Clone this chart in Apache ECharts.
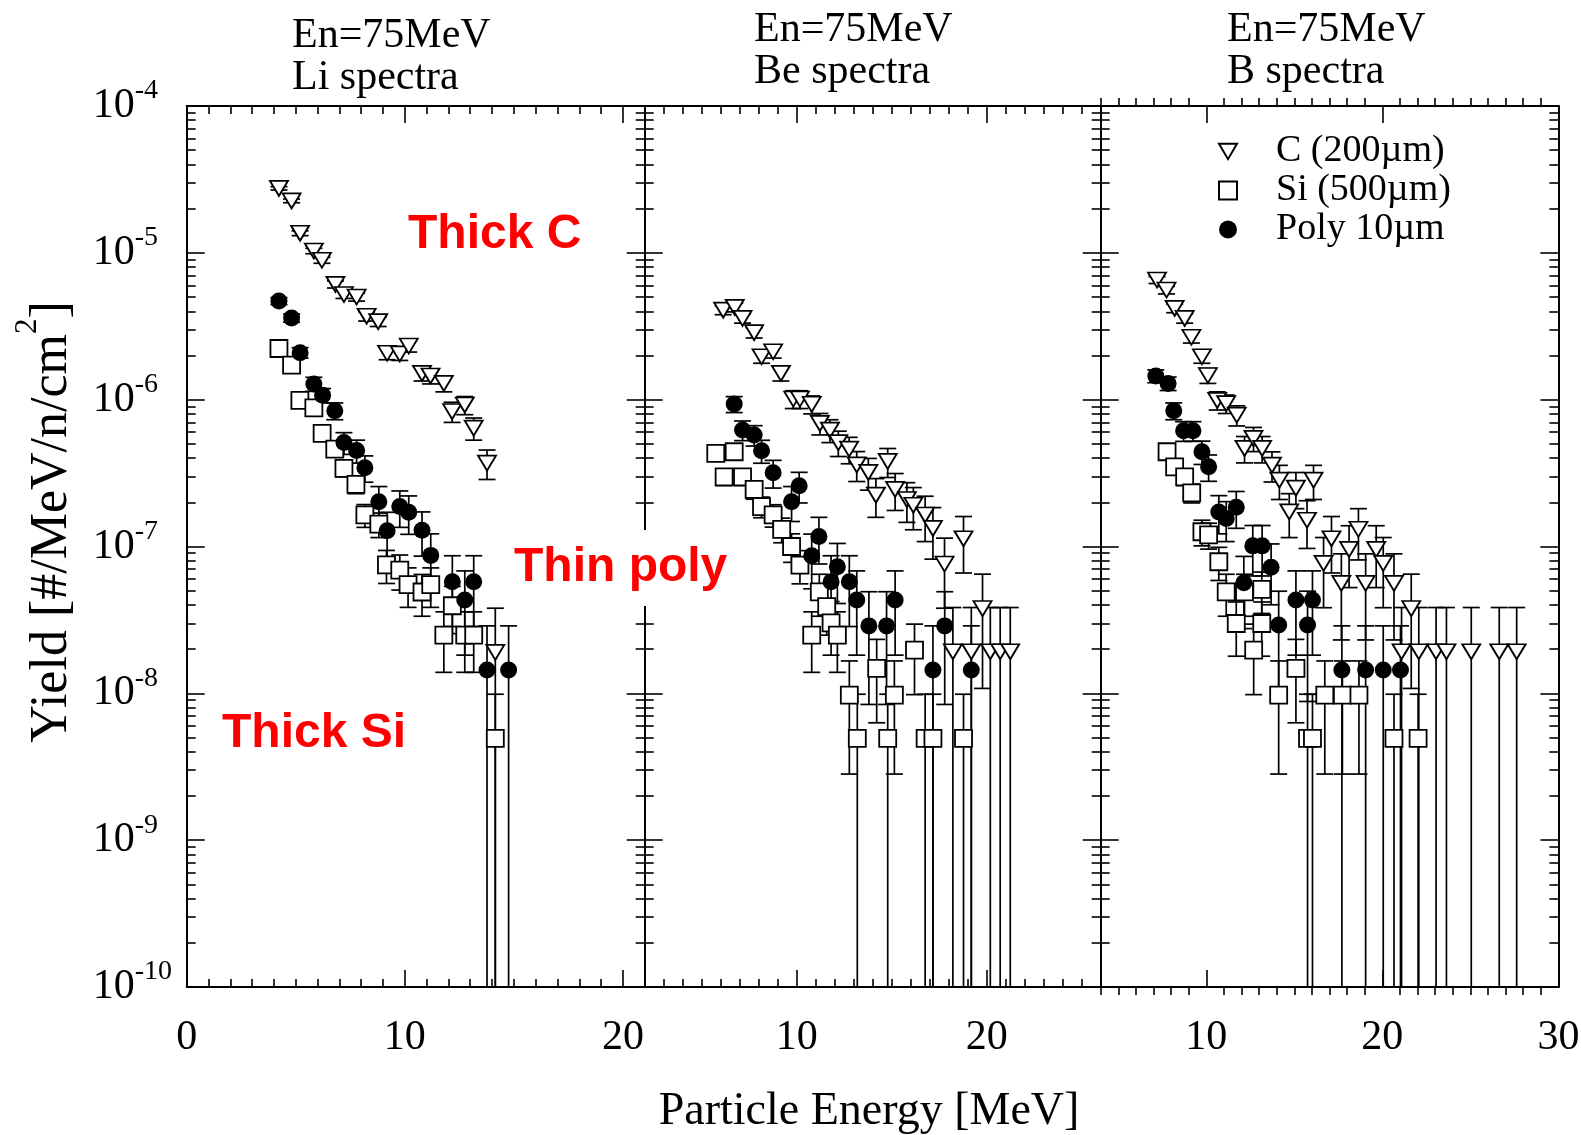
<!DOCTYPE html>
<html><head><meta charset="utf-8">
<script src="https://cdn.jsdelivr.net/npm/echarts@6/dist/echarts.min.js"></script>
<style>html,body{margin:0;padding:0;background:#fff}#c{width:1581px;height:1135px}</style>
</head><body><div id="c"></div>
<script>
// ---------------- data ----------------
const seriesNames = ['C (200µm)', 'Si (500µm)', 'Poly 10µm'];
const panelTitles = ['En=75MeV\nLi spectra', 'En=75MeV\nBe spectra', 'En=75MeV\nB spectra'];
const liTickLabels = [0, 10, 20];
const beTickLabels = [10, 20];
const bTickLabels = [10, 20, 30];

// Li panel
const liC_x = [4.23, 4.81, 5.20, 5.83, 6.20, 6.82, 7.21, 7.79, 8.25, 8.78, 9.19, 9.77, 10.18, 10.79, 11.18, 11.79, 12.17, 12.75, 13.16, 13.77, 14.15];
const liC_y = [2.75e-5, 2.26e-5, 1.36e-5, 1.03e-5, 8.9e-6, 6.1e-6, 5.2e-6, 5.0e-6, 3.7e-6, 3.4e-6, 2.07e-6, 2.05e-6, 2.32e-6, 1.51e-6, 1.45e-6, 1.29e-6, 8.3e-7, 9.2e-7, 6.4e-7, 3.7e-7, 1.9e-8];
const liC_err = [7.2e-7, 6.6e-7, 5.1e-7, 4.4e-7, 4.1e-7, 3.4e-7, 3.1e-7, 3.1e-7, 2.7e-7, 2.5e-7, 2.0e-7, 2.0e-7, 2.1e-7, 1.7e-7, 1.7e-7, 1.6e-7, 1.3e-7, 1.3e-7, 1.1e-7, 8.4e-8, 1.9e-8];
const liSi_x = [4.23, 4.81, 5.19, 5.83, 6.21, 6.79, 7.21, 7.76, 8.17, 8.81, 9.16, 9.77, 10.15, 10.79, 11.19, 11.79, 12.18, 12.75, 13.16, 14.15];
const liSi_y = [2.23e-6, 1.72e-6, 9.9e-7, 8.8e-7, 5.9e-7, 4.6e-7, 3.4e-7, 2.65e-7, 1.64e-7, 1.42e-7, 7.5e-8, 6.9e-8, 5.5e-8, 4.9e-8, 5.5e-8, 2.49e-8, 3.95e-8, 2.49e-8, 2.49e-8, 4.93e-9];
const liSi_err = [1.05e-7, 9.2e-8, 7.0e-8, 6.6e-8, 5.4e-8, 4.8e-8, 4.1e-8, 3.6e-8, 2.9e-8, 2.7e-8, 1.9e-8, 1.85e-8, 1.65e-8, 1.55e-8, 1.65e-8, 1.1e-8, 1.4e-8, 1.1e-8, 1.1e-8, 4.93e-9];
const liP_x = [4.23, 4.81, 5.20, 5.83, 6.23, 6.79, 7.21, 7.79, 8.17, 8.81, 9.19, 9.77, 10.18, 10.79, 11.19, 12.18, 12.75, 13.16, 13.77, 14.76];
const liP_y = [4.7e-6, 3.6e-6, 2.09e-6, 1.28e-6, 1.07e-6, 8.4e-7, 5.1e-7, 4.5e-7, 3.44e-7, 2.02e-7, 1.28e-7, 1.87e-7, 1.71e-7, 1.29e-7, 8.7e-8, 5.75e-8, 4.32e-8, 5.75e-8, 1.44e-8, 1.44e-8];
const liP_err = [2.6e-7, 2.3e-7, 1.7e-7, 1.4e-7, 1.2e-7, 1.1e-7, 8.6e-8, 8.0e-8, 7.0e-8, 5.4e-8, 4.3e-8, 5.2e-8, 5.0e-8, 4.3e-8, 3.5e-8, 2.9e-8, 2.5e-8, 2.9e-8, 1.44e-8, 1.44e-8];

// Be panel
const beC_x = [6.13, 6.74, 7.15, 7.76, 8.15, 8.76, 9.17, 9.82, 10.17, 10.79, 11.22, 11.75, 12.19, 12.76, 13.16, 13.77, 14.17, 14.79, 15.18, 15.80, 16.14, 16.76, 17.17, 17.78, 18.22, 18.78, 19.19, 19.78, 20.19, 20.71, 21.24];
const beC_y = [4.07e-6, 4.25e-6, 3.58e-6, 2.86e-6, 1.96e-6, 2.12e-6, 1.51e-6, 1.01e-6, 1.01e-6, 9.3e-7, 6.9e-7, 6.2e-7, 5.1e-7, 4.6e-7, 3.6e-7, 3.2e-7, 2.24e-7, 3.8e-7, 2.45e-7, 2.09e-7, 1.91e-7, 1.64e-7, 1.33e-7, 7.6e-8, 1.92e-8, 1.13e-7, 1.92e-8, 3.78e-8, 1.92e-8, 1.92e-8, 1.92e-8];
const beC_err = [2.8e-7, 2.9e-7, 2.6e-7, 2.3e-7, 1.9e-7, 2.0e-7, 1.7e-7, 1.4e-7, 1.4e-7, 1.3e-7, 1.15e-7, 1.1e-7, 1.0e-7, 9.4e-8, 8.3e-8, 7.8e-8, 6.6e-8, 8.5e-8, 6.9e-8, 6.3e-8, 6.1e-8, 5.6e-8, 5.1e-8, 3.8e-8, 1.92e-8, 4.7e-8, 1.92e-8, 2.7e-8, 1.92e-8, 1.92e-8, 1.92e-8];
const beSi_x = [5.74, 6.18, 6.71, 7.15, 7.76, 8.15, 8.76, 9.21, 9.73, 10.17, 10.79, 11.19, 11.58, 11.81, 12.14, 12.77, 13.19, 14.21, 14.79, 15.14, 16.20, 16.76, 17.17, 18.78];
const beSi_y = [4.31e-7, 2.98e-7, 4.42e-7, 2.98e-7, 2.45e-7, 1.87e-7, 1.64e-7, 1.31e-7, 1.0e-7, 7.47e-8, 2.49e-8, 4.91e-8, 3.89e-8, 3.02e-8, 2.49e-8, 9.72e-9, 4.93e-9, 1.48e-8, 4.93e-9, 9.72e-9, 1.97e-8, 4.93e-9, 4.93e-9, 4.93e-9];
const beSi_err = [4.6e-8, 3.8e-8, 4.7e-8, 3.8e-8, 3.5e-8, 3.0e-8, 2.85e-8, 2.5e-8, 2.2e-8, 1.9e-8, 1.1e-8, 1.56e-8, 1.4e-8, 1.2e-8, 1.1e-8, 6.9e-9, 4.93e-9, 8.5e-9, 4.93e-9, 6.9e-9, 9.9e-9, 4.93e-9, 4.93e-9, 4.93e-9];
const beP_x = [6.71, 7.15, 7.76, 8.15, 8.76, 9.73, 10.13, 10.79, 11.17, 11.81, 12.14, 12.77, 13.16, 13.80, 14.73, 15.18, 17.17, 17.79, 19.19];
const beP_y = [9.33e-7, 6.21e-7, 5.74e-7, 4.49e-7, 3.18e-7, 2.02e-7, 2.59e-7, 8.65e-8, 1.17e-7, 5.75e-8, 7.29e-8, 5.75e-8, 4.32e-8, 2.88e-8, 2.88e-8, 4.32e-8, 1.44e-8, 2.88e-8, 1.44e-8];
const beP_err = [1.16e-7, 9.5e-8, 9.1e-8, 8.0e-8, 6.8e-8, 5.4e-8, 6.1e-8, 3.5e-8, 4.1e-8, 2.9e-8, 3.2e-8, 2.9e-8, 2.5e-8, 2.04e-8, 2.04e-8, 2.5e-8, 1.44e-8, 2.04e-8, 1.44e-8];

// B panel
const bC_x = [7.20, 7.74, 8.20, 8.77, 9.15, 9.75, 10.09, 10.62, 11.13, 11.73, 12.17, 12.68, 13.17, 13.73, 14.15, 14.71, 15.09, 15.72, 16.09, 16.66, 17.11, 17.67, 18.11, 18.64, 19.05, 19.65, 20.05, 20.66, 21.09, 21.64, 22.07, 23.05, 23.64, 25.05, 26.64, 27.63];
const bC_y = [6.53e-6, 5.58e-6, 4.19e-6, 3.58e-6, 2.66e-6, 1.96e-6, 1.46e-6, 9.9e-7, 9.4e-7, 7.85e-7, 4.66e-7, 5.45e-7, 4.66e-7, 3.58e-7, 2.83e-7, 1.72e-7, 2.5e-7, 1.51e-7, 2.83e-7, 7.67e-8, 1.13e-7, 5.61e-8, 9.55e-8, 1.31e-7, 5.61e-8, 9.55e-8, 7.67e-8, 5.61e-8, 1.92e-8, 3.78e-8, 1.92e-8, 1.92e-8, 1.92e-8, 1.92e-8, 1.92e-8, 1.92e-8];
const bC_err = [3.5e-7, 3.3e-7, 2.8e-7, 2.6e-7, 2.3e-7, 1.9e-7, 1.7e-7, 1.4e-7, 1.35e-7, 1.23e-7, 9.5e-8, 1.02e-7, 9.5e-8, 8.3e-8, 7.4e-8, 5.7e-8, 6.9e-8, 5.4e-8, 7.4e-8, 3.84e-8, 4.7e-8, 3.3e-8, 4.3e-8, 5.0e-8, 3.3e-8, 4.3e-8, 3.84e-8, 3.3e-8, 1.92e-8, 2.7e-8, 1.92e-8, 1.92e-8, 1.92e-8, 1.92e-8, 1.92e-8, 1.92e-8];
const bSi_x = [7.77, 8.20, 8.77, 9.17, 9.75, 10.13, 10.71, 11.13, 11.70, 12.17, 12.69, 13.15, 13.15, 14.11, 15.09, 15.75, 16.03, 16.73, 17.73, 18.67, 20.66, 22.03];
const bSi_y = [4.42e-7, 3.49e-7, 2.98e-7, 2.32e-7, 1.26e-7, 1.20e-7, 7.87e-8, 4.91e-8, 2.99e-8, 4.91e-8, 1.97e-8, 2.99e-8, 5.1e-8, 9.72e-9, 1.48e-8, 4.93e-9, 4.93e-9, 9.72e-9, 9.72e-9, 9.72e-9, 4.93e-9, 4.93e-9];
const bSi_err = [4.7e-8, 4.1e-8, 3.8e-8, 3.4e-8, 2.5e-8, 2.4e-8, 2.0e-8, 1.56e-8, 1.2e-8, 1.56e-8, 9.9e-9, 1.2e-8, 1.6e-8, 6.9e-9, 8.5e-9, 4.93e-9, 4.93e-9, 6.9e-9, 6.9e-9, 6.9e-9, 4.93e-9, 4.93e-9];
const bP_x = [7.13, 7.83, 8.15, 8.71, 9.24, 9.75, 10.13, 10.71, 11.13, 11.70, 12.13, 12.64, 13.17, 13.68, 14.11, 15.09, 15.75, 16.03, 17.70, 19.05, 20.05, 21.03];
const bP_y = [1.45e-6, 1.29e-6, 8.4e-7, 6.14e-7, 6.14e-7, 4.42e-7, 3.49e-7, 1.72e-7, 1.55e-7, 1.85e-7, 5.66e-8, 1.01e-7, 1.01e-7, 7.21e-8, 2.92e-8, 4.32e-8, 2.92e-8, 4.32e-8, 1.44e-8, 1.44e-8, 1.44e-8, 1.44e-8];
const bP_err = [1.45e-7, 1.36e-7, 1.1e-7, 9.4e-8, 9.4e-8, 8.0e-8, 7.1e-8, 5.0e-8, 4.7e-8, 5.2e-8, 2.9e-8, 3.8e-8, 3.8e-8, 3.2e-8, 2.04e-8, 2.5e-8, 2.04e-8, 2.5e-8, 1.44e-8, 1.44e-8, 1.44e-8, 1.44e-8];

// ---------------- layout / style ----------------
const SERIF = "'Liberation Serif', 'Times New Roman', serif";
const SANS = "'Liberation Sans', Arial, sans-serif";
const Y_MIN = 1e-10, Y_MAX = 1e-4;
const gridTop = 106, gridHeight = 881;
const panels = [
  { left: 186.7, width: 458, xMin: 0, xMax: 21, labels: liTickLabels, titleLeft: 292, titleTop: 15,
    sets: [[liC_x, liC_y, liC_err], [liSi_x, liSi_y, liSi_err], [liP_x, liP_y, liP_err]] },
  { left: 644.7, width: 456, xMin: 2, xMax: 26, labels: beTickLabels, titleLeft: 754, titleTop: 9,
    sets: [[beC_x, beC_y, beC_err], [beSi_x, beSi_y, beSi_err], [beP_x, beP_y, beP_err]] },
  { left: 1100.7, width: 457.7, xMin: 4, xMax: 30, labels: bTickLabels, titleLeft: 1227, titleTop: 9,
    sets: [[bC_x, bC_y, bC_err], [bSi_x, bSi_y, bSi_err], [bP_x, bP_y, bP_err]] }
];
const TRI = 'path://M0,0 L20,0 L10,17 Z';
const symbolDefs = [
  { symbol: TRI, size: [18, 15], style: { color: '#fff', borderColor: '#000', borderWidth: 1.8 } },
  { symbol: 'rect', size: 17, style: { color: '#fff', borderColor: '#000', borderWidth: 1.8 } },
  { symbol: 'circle', size: 17, style: { color: '#000', borderColor: '#000', borderWidth: 0 } }
];
const lineStyle = { color: '#000', width: 2 };
const tickStyle = { color: '#000', width: 1.6 };

const grids = [], xAxes = [], yAxes = [], series = [];
panels.forEach((p, i) => {
  grids.push({ left: p.left, top: gridTop, width: p.width, height: gridHeight, containLabel: false, outerBoundsMode: 'none', show: false });
  const ints = [];
  for (let v = p.xMin; v <= p.xMax; v++) ints.push(v);
  const minorVals = ints.filter(v => v % 10 !== 0);
  const outward = i === 2;
  const base = { gridIndex: i, type: 'value', min: p.xMin, max: p.xMax, interval: 1, splitLine: { show: false } };
  xAxes.push(
    Object.assign({}, base, { position: 'bottom', axisLine: { show: true, onZero: false, lineStyle },
      axisTick: { show: true, inside: !outward, length: 8, customValues: minorVals, lineStyle: tickStyle }, axisLabel: { show: false } }),
    Object.assign({}, base, { position: 'bottom', axisLine: { show: false, onZero: false },
      axisTick: { show: true, inside: true, length: 17, customValues: p.labels, lineStyle: tickStyle },
      axisLabel: { show: true, customValues: p.labels, margin: 30, color: '#000', fontSize: 42, fontFamily: SERIF } }),
    Object.assign({}, base, { position: 'top', axisLine: { show: true, onZero: false, lineStyle },
      axisTick: { show: true, inside: !outward, length: 8, customValues: minorVals, lineStyle: tickStyle }, axisLabel: { show: false } }),
    Object.assign({}, base, { position: 'top', axisLine: { show: false, onZero: false },
      axisTick: { show: true, inside: true, length: 17, customValues: p.labels, lineStyle: tickStyle }, axisLabel: { show: false } })
  );
  const ybase = { gridIndex: i, type: 'log', logBase: 10, min: Y_MIN, max: Y_MAX, splitNumber: 6, splitLine: { show: false },
    axisLine: { show: true, onZero: false, lineStyle },
    axisTick: { show: true, inside: true, length: 18, lineStyle: tickStyle },
    minorTick: { show: true, splitNumber: 9, length: 9, lineStyle: tickStyle } };
  yAxes.push(
    Object.assign({}, ybase, { position: 'left', axisLabel: i === 0 ? {
      show: true, align: 'left', margin: 94, color: '#000',
      formatter: v => '{b|10}{s|' + Math.round(Math.log10(v)) + '}',
      rich: { b: { fontSize: 42, fontFamily: SERIF, color: '#000', lineHeight: 58, verticalAlign: 'bottom', padding: [0, 0, 8, 0] },
              s: { fontSize: 28, fontFamily: SERIF, color: '#000', lineHeight: 28, verticalAlign: 'top' } }
    } : { show: false } }),
    Object.assign({}, ybase, { position: 'right', axisLabel: { show: false } })
  );
  p.sets.forEach((set, k) => {
    const data = set[0].map((x, j) => [x, set[1][j], set[2][j]]);
    series.push({
      type: 'custom', name: seriesNames[k] + ' err', xAxisIndex: 4 * i, yAxisIndex: 2 * i, z: 2,
      encode: { x: 0, y: 1 }, data,
      renderItem: (params, api) => {
        const x = api.value(0), y = api.value(1), e = api.value(2);
        const lo = y - e, hi = y + e;
        const top = api.coord([x, hi]);
        const bot = api.coord([x, lo > Y_MIN ? lo : Y_MIN]);
        const st = { stroke: '#000', lineWidth: 1.7 };
        const half = 8.5;
        const ch = [
          { type: 'line', shape: { x1: top[0], y1: top[1], x2: bot[0], y2: bot[1] }, style: st },
          { type: 'line', shape: { x1: top[0] - half, y1: top[1], x2: top[0] + half, y2: top[1] }, style: st }
        ];
        if (lo > Y_MIN) ch.push({ type: 'line', shape: { x1: bot[0] - half, y1: bot[1], x2: bot[0] + half, y2: bot[1] }, style: st });
        return { type: 'group', children: ch };
      }
    });
  });
  p.sets.forEach((set, k) => {
    const data = set[0].map((x, j) => [x, set[1][j]]);
    const sd = symbolDefs[k];
    series.push({
      type: 'scatter', name: seriesNames[k], xAxisIndex: 4 * i, yAxisIndex: 2 * i, z: 3,
      symbol: sd.symbol, symbolSize: sd.size, itemStyle: Object.assign({ opacity: 1 }, sd.style), data
    });
  });
});

const titles = panels.map((p, i) => ({
  text: panelTitles[i], left: p.titleLeft, top: p.titleTop, padding: 0,
  textStyle: { fontFamily: SERIF, fontSize: 42, fontWeight: 'normal', color: '#000', lineHeight: 42 }
}));

const redStyle = { fill: '#ff0000', font: 'bold 48px ' + SANS, verticalAlign: 'middle', align: 'left' };
const option = {
  animation: false,
  backgroundColor: '#fff',
  title: titles,
  legend: {
    data: seriesNames, orient: 'vertical', left: 1218, top: 132, itemWidth: 18, itemHeight: 18, itemGap: 0,
    selectedMode: false, padding: 0,
    textStyle: { fontFamily: SERIF, fontSize: 38, color: '#000', lineHeight: 39, padding: [0, 0, 0, 34] }
  },
  grid: grids, xAxis: xAxes, yAxis: yAxes, series,
  graphic: [
    { type: 'text', x: 408, y: 234.5, z: 10, style: Object.assign({ text: 'Thick C' }, redStyle) },
    { type: 'text', x: 510, y: 568, z: 10, style: Object.assign({ text: 'Thin poly', backgroundColor: '#fff', padding: [14, 4, 14, 4] }, redStyle) },
    { type: 'text', x: 222, y: 733.5, z: 10, style: Object.assign({ text: 'Thick Si' }, redStyle) },
    { type: 'text', x: 869, y: 1112, z: 10, style: { text: 'Particle Energy [MeV]', fill: '#000', font: '46px ' + SERIF, align: 'center', verticalAlign: 'middle' } },
    { type: 'text', x: 45, y: 522, rotation: Math.PI / 2, z: 10, style: {
        text: '{a|Yield [#/MeV/n/cm}{s|2}{a|]}', align: 'center', verticalAlign: 'middle',
        rich: { a: { fontSize: 52, fontFamily: SERIF, fill: '#000', color: '#000', lineHeight: 66, verticalAlign: 'bottom' },
                s: { fontSize: 31, fontFamily: SERIF, fill: '#000', color: '#000', lineHeight: 31, verticalAlign: 'top' } } } }
  ]
};
const chart = echarts.init(document.getElementById('c'), null, { renderer: 'canvas' });
chart.setOption(option);
</script>
</body></html>
